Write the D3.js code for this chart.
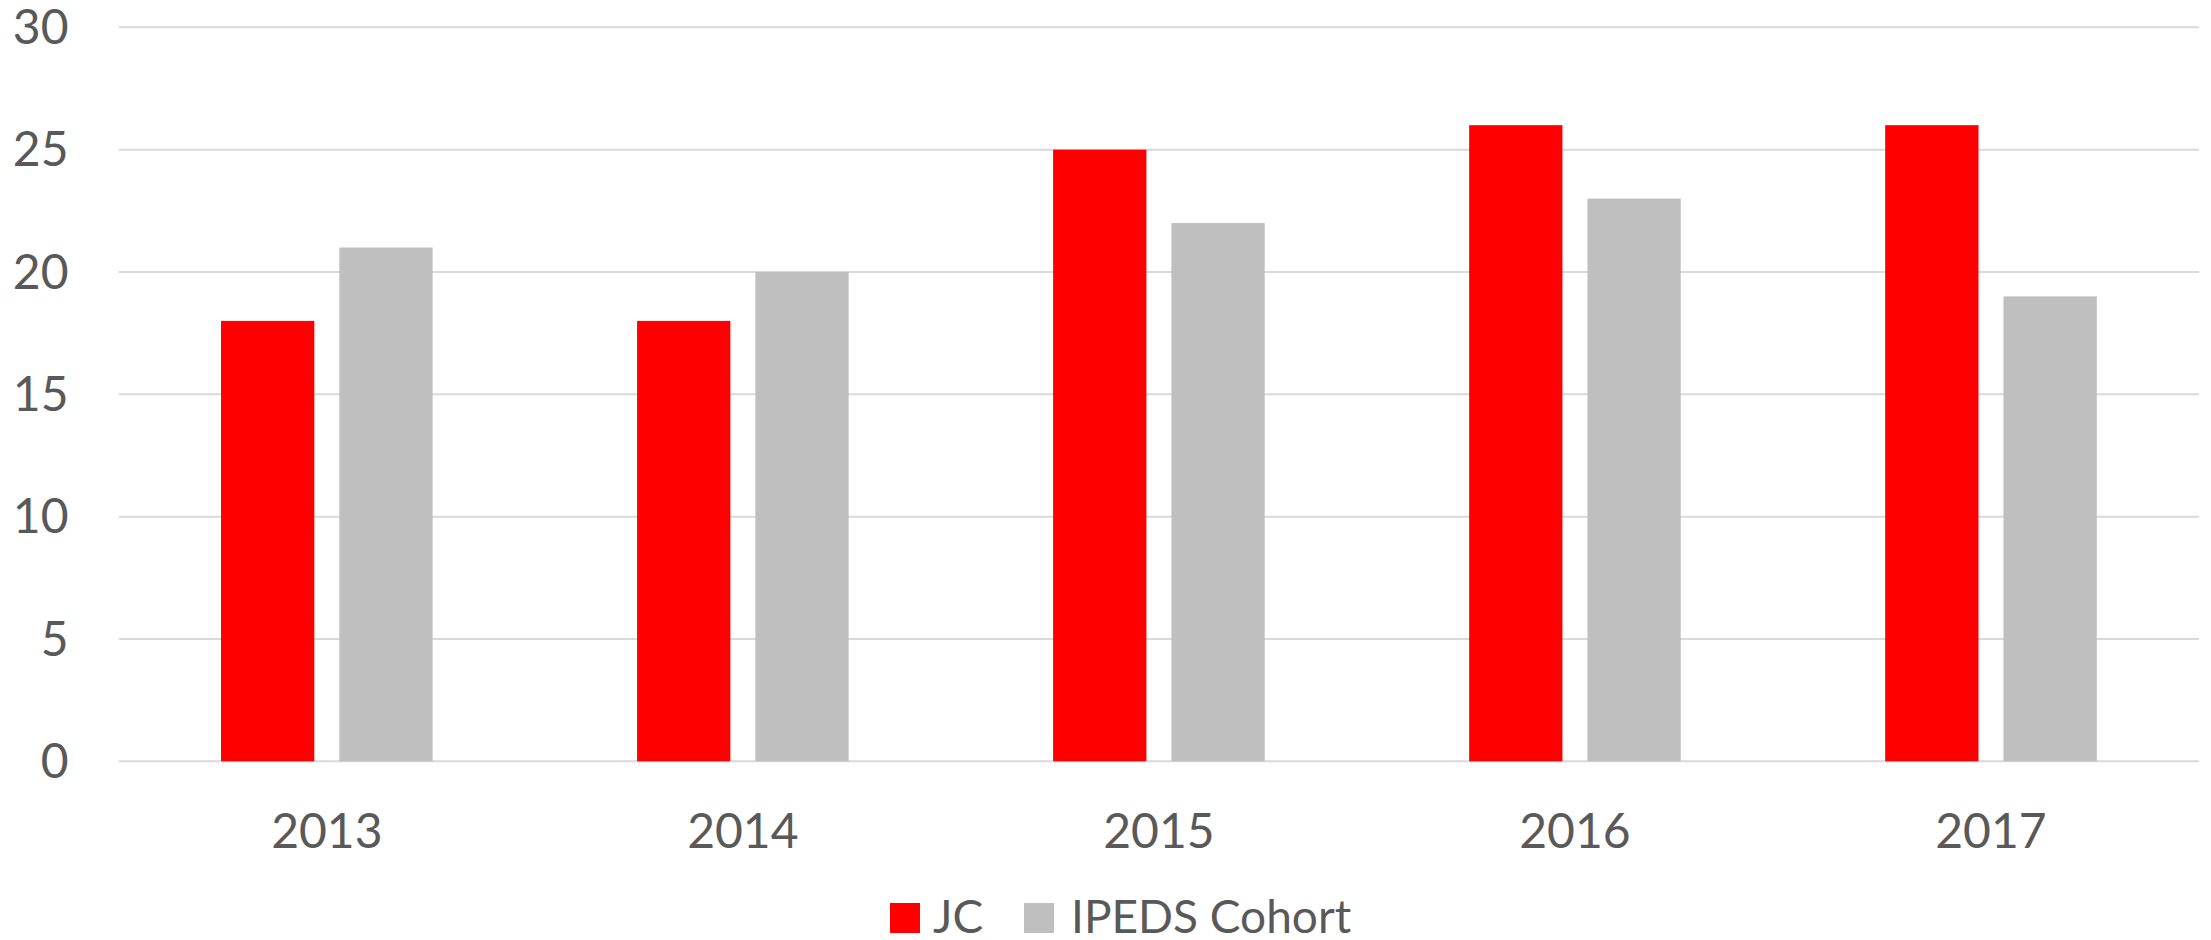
<!DOCTYPE html>
<html><head><meta charset="utf-8">
<script src="https://cdn.jsdelivr.net/npm/d3@7"></script>
<style>body{margin:0;background:#fff}</style>
</head><body>
<svg id="c" width="2211" height="940"></svg>
<script>
const categories = ["2013","2014","2015","2016","2017"];
const seriesNames = ["JC","IPEDS Cohort"];
const jcValues = [18,18,25,26,26];
const ipedsValues = [21,20,22,23,19];
const yTicks = [0,5,10,15,20,25,30];
const colors = ["#FF0000","#BFBFBF"];

const svg = d3.select("#c");
const plotLeft = 118.8, plotRight = 2199, plotTop = 27.3, plotBottom = 761.3;
const font = "Lato, 'Open Sans', sans-serif";
const textColor = "#595959";

const x = d3.scaleBand().domain(categories).range([plotLeft,plotRight]).paddingInner(0).paddingOuter(0);
const y = d3.scaleLinear().domain([0,30]).range([plotBottom,plotTop]);
const barW = 93.3, barGap = 25;

// gridlines
svg.append("g").selectAll("line").data(yTicks).join("line")
  .attr("x1",plotLeft).attr("x2",plotRight)
  .attr("y1",d=>y(d)).attr("y2",d=>y(d))
  .attr("stroke","#D9D9D9").attr("stroke-width",2);

// y labels
svg.append("g").selectAll("text").data(yTicks).join("text")
  .attr("x",68.5).attr("y",d=>y(d)).attr("dy","0.35em")
  .attr("text-anchor","end").attr("font-family",font).attr("font-size",48)
  .attr("fill",textColor).text(d=>d);

const data = categories.map((c,i)=>({c, vals:[jcValues[i], ipedsValues[i]]}));
const groupW = barW*2+barGap;
const g = svg.append("g");
data.forEach(d=>{
  const cx = x(d.c) + x.bandwidth()/2;
  d.vals.forEach((v,j)=>{
    g.append("rect")
      .attr("x", cx - groupW/2 + j*(barW+barGap))
      .attr("width", barW)
      .attr("y", y(v))
      .attr("height", y(0)-y(v))
      .attr("fill", colors[j]);
  });
});

// x labels
svg.append("g").selectAll("text").data(categories).join("text")
  .attr("x",d=>x(d)+x.bandwidth()/2).attr("y",847.7)
  .attr("text-anchor","middle").attr("font-family",font).attr("font-size",48)
  .attr("fill",textColor).text(d=>d);

// legend
const legendItems = [{name:seriesNames[0], sx:890, tx:933},{name:seriesNames[1], sx:1024, tx:1071}];
legendItems.forEach((it,i)=>{
  svg.append("rect").attr("x",it.sx).attr("y",903).attr("width",30).attr("height",30).attr("fill",colors[i]);
  svg.append("text").attr("x",it.tx).attr("y",933).attr("font-family",font).attr("font-size",46)
    .attr("fill",textColor).text(it.name);
});
</script>
</body></html>
